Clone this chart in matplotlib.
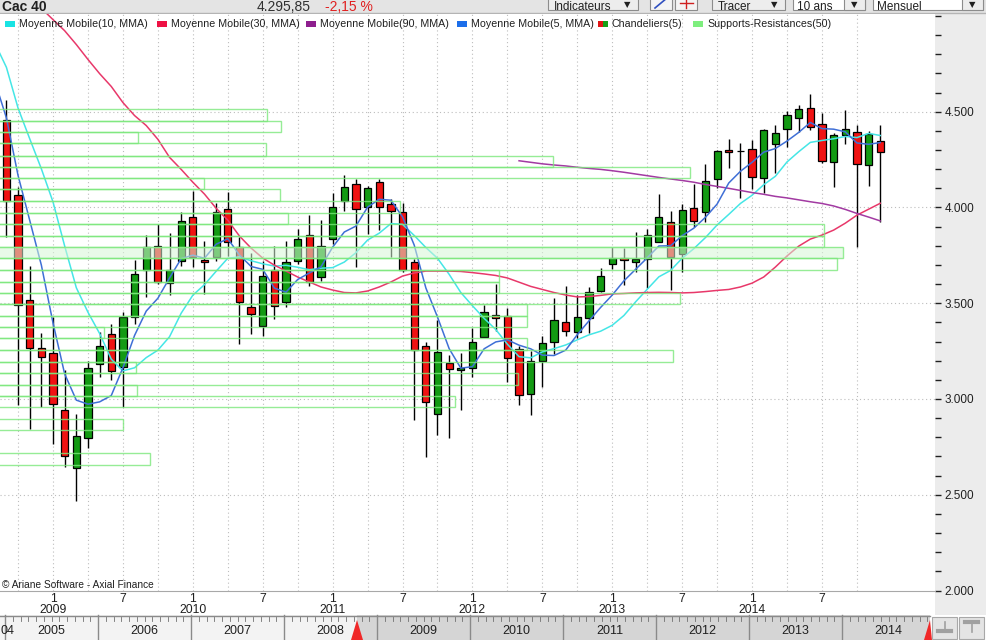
import numpy as np
import pandas as pd
import matplotlib
matplotlib.use('Agg')
import matplotlib.pyplot as plt
from matplotlib.patches import Rectangle, Polygon
from matplotlib.ticker import FixedLocator, MultipleLocator, FuncFormatter

plt.rcParams['font.family'] = ['Liberation Sans', 'DejaVu Sans']

# Monthly candles, Sep 2008 .. Dec 2014
months = pd.period_range('2008-09', '2014-12', freq='M')
opens = [4455, 4065, 3516, 3266, 3240, 2941, 2641, 2797, 3184, 3339,
         3167, 3427, 3675, 3800, 3604, 3719, 3948, 3727, 3740, 3991,
         3792, 3479, 3383, 3675, 3505, 3722, 3857, 3635, 3838, 4034,
         4125, 4000, 4135, 4016, 3977, 3717, 3276, 2920, 3187, 3149,
         3161, 3326, 3441, 3436, 3263, 3028, 3201, 3297, 3401, 3349,
         3422, 3566, 3705, 3734, 3714, 3731, 3821, 3925, 3757, 3995,
         3974, 4147, 4302, 4293, 4307, 4154, 4333, 4408, 4469, 4521,
         4437, 4240, 4380, 4396, 4224, 4349]
highs = [4560, 4105, 3693, 3345, 3430, 3149, 2923, 3196, 3352, 3392,
         3453, 3727, 3856, 3913, 3866, 3974, 4086, 3827, 4022, 4081,
         3844, 3762, 3722, 3800, 3827, 3887, 3961, 3935, 4078, 4168,
         4147, 4113, 4147, 4043, 4022, 3731, 3300, 3415, 3230, 3242,
         3370, 3491, 3601, 3474, 3279, 3250, 3331, 3526, 3592, 3543,
         3583, 3682, 3792, 3786, 3870, 3887, 4069, 3982, 4017, 4121,
         4226, 4300, 4356, 4339, 4350, 4410, 4429, 4503, 4533, 4595,
         4491, 4390, 4507, 4429, 4399, 4429]
lows = [3845, 2970, 2842, 2958, 2767, 2646, 2467, 2745, 3115, 3097,
        2958, 3392, 3531, 3600, 3545, 3696, 3688, 3548, 3722, 3748,
        3288, 3340, 3328, 3418, 3479, 3705, 3592, 3618, 3809, 3982,
        3687, 3861, 3883, 3740, 3661, 2889, 2698, 2810, 2797, 2940,
        3115, 3323, 3357, 3089, 2970, 2918, 3065, 3236, 3330, 3320,
        3344, 3560, 3679, 3595, 3661, 3578, 3818, 3571, 3661, 3900,
        3925, 4104, 4208, 4047, 4095, 4074, 4182, 4316, 4394, 4404,
        4234, 4109, 4333, 3794, 4113, 3925]
closes = [4035, 3490, 3266, 3219, 2976, 2703, 2807, 3161, 3276, 3144,
          3427, 3653, 3795, 3612, 3675, 3931, 3743, 3715, 3977, 3818,
          3505, 3444, 3641, 3487, 3714, 3835, 3612, 3800, 4005, 4109,
          3991, 4104, 4005, 3981, 3675, 3257, 2984, 3243, 3158, 3161,
          3297, 3453, 3422, 3214, 3020, 3199, 3292, 3410, 3354, 3427,
          3557, 3641, 3734, 3724, 3731, 3856, 3948, 3740, 3988, 3930,
          4139, 4295, 4290, 4295, 4161, 4406, 4391, 4484, 4516, 4422,
          4245, 4380, 4411, 4229, 4385, 4292]

# moving averages, first value is Aug 2008
ma5 = [4660,
       4468, 4167, 3933, 3699, 3397, 3131, 2994, 2973, 2985, 3018,
       3163, 3332, 3459, 3526, 3632, 3733, 3751, 3735, 3808, 3837,
       3752, 3692, 3677, 3579, 3558, 3624, 3658, 3690, 3793, 3872,
       3903, 4002, 4043, 4038, 3951, 3804, 3580, 3428, 3263, 3161,
       3169, 3262, 3298, 3309, 3281, 3262, 3229, 3227, 3255, 3336,
       3408, 3478, 3543, 3617, 3677, 3737, 3799, 3800, 3853, 3892,
       3949, 4018, 4128, 4189, 4236, 4289, 4308, 4347, 4392, 4444,
       4412, 4409, 4395, 4337, 4330, 4339]
ma10 = [4860,
        4732, 4519, 4359, 4202, 4029, 3799, 3581, 3453, 3342, 3208,
        3147, 3163, 3216, 3255, 3325, 3448, 3542, 3597, 3667, 3735,
        3742, 3722, 3706, 3694, 3698, 3688, 3675, 3683, 3686, 3715,
        3764, 3830, 3866, 3916, 3912, 3854, 3791, 3735, 3651, 3556,
        3487, 3421, 3363, 3286, 3221, 3215, 3246, 3263, 3282, 3309,
        3335, 3354, 3385, 3436, 3507, 3573, 3638, 3671, 3735, 3785,
        3843, 3909, 3964, 4021, 4064, 4119, 4163, 4238, 4291, 4340,
        4350, 4359, 4371, 4365, 4387, 4376]
ma30 = [5290,
        5230, 5170, 5110, 5040, 4981, 4923, 4851, 4773, 4699, 4632,
        4548, 4480, 4428, 4356, 4262, 4199, 4132, 4070, 3996, 3934,
        3851, 3788, 3736, 3699, 3668, 3637, 3611, 3585, 3569, 3556,
        3554, 3564, 3585, 3611, 3642, 3658, 3668, 3668, 3668, 3666,
        3660, 3653, 3645, 3632, 3610, 3588, 3572, 3556, 3543, 3533,
        3535, 3541, 3549, 3551, 3554, 3556, 3557, 3556, 3554, 3556,
        3561, 3567, 3572, 3585, 3605, 3637, 3689, 3747, 3798, 3835,
        3856, 3882, 3918, 3960, 3991, 4022]
# 90-month average only exists from May 2012
ma90_first = '2012-05'
ma90 = [4244, 4236, 4228, 4222, 4217, 4210, 4204, 4199, 4192, 4184,
        4175, 4166, 4157, 4149, 4141, 4132, 4120, 4110, 4100, 4089,
        4078, 4069, 4058, 4050, 4040, 4030, 4021, 4008, 3990, 3969,
        3950, 3930]

# Supports-Resistances bands: low, high, last month (position), filled
sr_low = [4452, 4394, 4335, 4270, 4213, 4152, 4095, 4034, 3973, 3914,
          3853, 3792, 3735, 3674, 3613, 3552, 3495, 3433, 3378, 3317,
          3256, 3195, 3134, 3073, 3016, 2957, 2838, 2655]
sr_high = [4513, 4452, 4394, 4335, 4270, 4213, 4152, 4095, 4034, 3973,
           3914, 3853, 3792, 3735, 3674, 3613, 3552, 3495, 3433, 3378,
           3317, 3256, 3195, 3134, 3073, 3016, 2894, 2716]
sr_end = [22.4, 23.6, 11.3, 22.3, 46.9, 58.7, 17.0, 23.5, 33.8, 24.2,
          70.2, 70.2, 71.8, 71.3, 42.3, 42.3, 57.8, 44.7, 44.7, 8.4,
          44.7, 57.2, 11.1, 43.9, 11.2, 38.5, 10.0, 12.3]
sr_filled = [False] * 12 + [True] + [False] * 15

nav_years = list(range(2005, 2015))

W, H = 986, 640
fig = plt.figure(figsize=(W / 100, H / 100), dpi=100, facecolor='white')

# background decorations in pixel coordinates
deco = fig.add_axes([0, 0, 1, 1], zorder=0)
deco.set_xlim(0, W)
deco.set_ylim(H, 0)
deco.axis('off')

# toolbar
deco.add_patch(Rectangle((0, 0), W, 13, facecolor='#E4E4E4', edgecolor='none'))
deco.plot([0, W], [13, 13], color='#B4B4B4', lw=1)
deco.text(2, 11, 'Cac 40', fontsize=10, fontweight='bold', va='baseline', color='#202020')
deco.text(257, 11, '4.295,85', fontsize=10, va='baseline', color='#303030')
deco.text(325, 11, '-2,15 %', fontsize=10, va='baseline', color='#E02020')
for x0, x1, label in [(548, 638, 'Indicateurs'), (712, 785, 'Tracer')]:
    deco.add_patch(Rectangle((x0, -6), x1 - x0, 16, facecolor='#EDEDED', edgecolor='#8C8C8C', lw=0.8))
    deco.text(x0 + 6, 9.5, label, fontsize=8.5, va='baseline', color='#202020')
    deco.text(x1 - 14, 5, '▼', fontsize=6, va='center', color='#202020',
              family=['DejaVu Sans'])
for x0 in [650, 675]:
    deco.add_patch(Rectangle((x0, -6), 22, 16, facecolor='#F4F4F4', edgecolor='#8C8C8C', lw=0.8))
deco.plot([655, 667], [8, -2], color='#3050C0', lw=1.2)
deco.plot([680, 693], [3, 3], color='#D02020', lw=1)
deco.plot([686, 686], [-4, 8], color='#D02020', lw=1)
for x0, x1, label in [(793, 865, '10 ans'), (873, 983, 'Mensuel')]:
    deco.add_patch(Rectangle((x0, -6), x1 - x0, 16, facecolor='white', edgecolor='#8C8C8C', lw=0.8))
    deco.add_patch(Rectangle((x1 - 21, -6), 21, 16, facecolor='#EDEDED', edgecolor='#8C8C8C', lw=0.8))
    deco.text(x0 + 4, 9.5, label, fontsize=8.5, va='baseline', color='#202020')
    deco.text(x1 - 14, 5, '▼', fontsize=6, va='center', color='#202020',
              family=['DejaVu Sans'])

# right axis panel
deco.add_patch(Rectangle((935, 13.5), W - 935, 601.5, facecolor='#ECECEC', edgecolor='none'))

# navigator strip
deco.add_patch(Rectangle((0, 615), 357, 25, facecolor='#F3F3F3', edgecolor='none'))
deco.add_patch(Rectangle((357, 615), 573, 25, facecolor='#D5D5D5', edgecolor='none'))
deco.plot([0, 930], [615.5, 615.5], color='#8A8A8A', lw=1)
year_w = 93.0
for k, yr in enumerate(nav_years):
    xs = 5 + k * year_w
    deco.plot([xs, xs], [615, 640], color='#8A8A8A', lw=1)
    for m in range(1, 12):
        deco.plot([xs + m * year_w / 12] * 2, [617, 621], color='#707070', lw=0.6)
    deco.text(xs + year_w / 2, 631, str(yr), fontsize=9, ha='center', va='center', color='#202020')
deco.text(0.5, 631, '04', fontsize=9, ha='left', va='center', color='#202020')
deco.add_patch(Polygon([[351, 640], [357, 620], [363, 640]], closed=True, facecolor='#F02828', edgecolor='none'))
deco.add_patch(Polygon([[924, 640], [930, 620], [932, 640]], closed=True, facecolor='#F02828', edgecolor='none'))
for x0 in [932, 959]:
    deco.add_patch(Rectangle((x0, 617), 25, 22, facecolor='#E4E4E4', edgecolor='#A8A8A8', lw=0.8))
deco.plot([938, 951], [631, 631], color='#A0A0A0', lw=3)
deco.plot([944.5, 944.5], [622, 629], color='#A0A0A0', lw=1.2)
deco.plot([965, 978], [622, 622], color='#A0A0A0', lw=3)
deco.plot([971.5, 971.5], [624, 632], color='#A0A0A0', lw=1.2)

# main chart
ax = fig.add_axes([0, (H - 590.5) / H, 935 / W, (590.5 - 14) / H], zorder=1)
ax.set_facecolor('white')

x = np.arange(len(months))
o = np.array(opens)
c = np.array(closes)
up = c >= o

# grid
for i, m in enumerate(months):
    if m.month in (1, 4, 7, 10):
        ax.axvline(i, color='#BDBDBD', ls=(0, (1, 2.5)), lw=0.8, zorder=0.5)
for v in range(2500, 5000, 500):
    ax.axhline(v, color='#BDBDBD', ls=(0, (1, 2.5)), lw=0.8, zorder=0.5)

# candles
ax.vlines(x, lows, highs, color='black', lw=1, zorder=2)
ax.bar(x, np.abs(c - o), bottom=np.minimum(o, c), width=0.62,
       color=np.where(up, '#139A13', '#F01212'), edgecolor='black', linewidth=0.9, zorder=2.5)

# moving averages
ma_x = np.arange(-1, len(months))
ax.plot(ma_x, ma10, color='#45E6E6', lw=1.1, zorder=3)
ax.plot(ma_x, ma30, color='#E8386A', lw=1.1, zorder=3)
ma90_x = months.get_loc(pd.Period(ma90_first, freq='M')) + np.arange(len(ma90))
ax.plot(ma90_x, ma90, color='#A23AA2', lw=1.1, zorder=3)
ax.plot(ma_x, ma5, color='#3F6FD6', lw=1.1, zorder=3)

# supports / resistances
for lo, hi, end, filled in zip(sr_low, sr_high, sr_end, sr_filled):
    if filled:
        ax.add_patch(Rectangle((-3, lo), end + 3, hi - lo, facecolor='#D6F6D6',
                               edgecolor='none', alpha=0.55, zorder=4))
    ax.add_patch(Rectangle((-3, lo), end + 3, hi - lo, facecolor='none',
                           edgecolor='#7CE87C', lw=1.0, alpha=0.8, zorder=4))

ax.set_xlim(-0.55, 79.7)
ax.set_ylim(2000, 5010.4)

ax.yaxis.tick_right()
ax.yaxis.set_major_locator(FixedLocator(list(range(2000, 4501, 500))))
ax.yaxis.set_minor_locator(MultipleLocator(100))
ax.yaxis.set_major_formatter(FuncFormatter(lambda v, p: f'{v:,.0f}'.replace(',', '.')))
ax.tick_params(axis='y', which='both', length=4, width=1, direction='out', pad=3,
               labelsize=8.5, colors='#202020')

tick_pos = [i for i, m in enumerate(months) if m.month in (1, 7)]
tick_lbl = [f'1\n{m.year}' if m.month == 1 else '7' for m in months if m.month in (1, 7)]
ax.set_xticks(tick_pos)
ax.set_xticklabels(tick_lbl, fontsize=8.7, linespacing=0.9)
ax.tick_params(axis='x', length=0, pad=2, colors='#202020')

for s in ['top', 'left', 'right']:
    ax.spines[s].set_visible(False)
ax.spines['bottom'].set_color('#A8A8A8')

# legend and credits on top
front = fig.add_axes([0, 0, 1, 1], zorder=3)
front.set_xlim(0, W)
front.set_ylim(H, 0)
front.axis('off')

legend_items = [('Moyenne Mobile(10, MMA)', '#19E3E3', 5),
                ('Moyenne Mobile(30, MMA)', '#EE1144', 157),
                ('Moyenne Mobile(90, MMA)', '#8E1E8E', 306),
                ('Moyenne Mobile(5, MMA)', '#1C6EEA', 457),
                ('Chandeliers(5)', None, 598),
                ('Supports-Resistances(50)', '#7EEE7E', 693)]
for label, col, lx in legend_items:
    if col is None:
        front.add_patch(Rectangle((lx, 21), 5, 6, facecolor='#E01515', edgecolor='none'))
        front.add_patch(Rectangle((lx + 5, 21), 5, 6, facecolor='#15A015', edgecolor='none'))
    else:
        front.add_patch(Rectangle((lx, 21), 10, 6, facecolor=col, edgecolor='none'))
    front.text(lx + 14, 24, label, fontsize=7.7, va='center', color='#202020')

front.text(2, 585, '© Ariane Software - Axial Finance', fontsize=7.3, va='center', color='#202020')

fig.savefig('out.png', dpi=100, facecolor='white')
